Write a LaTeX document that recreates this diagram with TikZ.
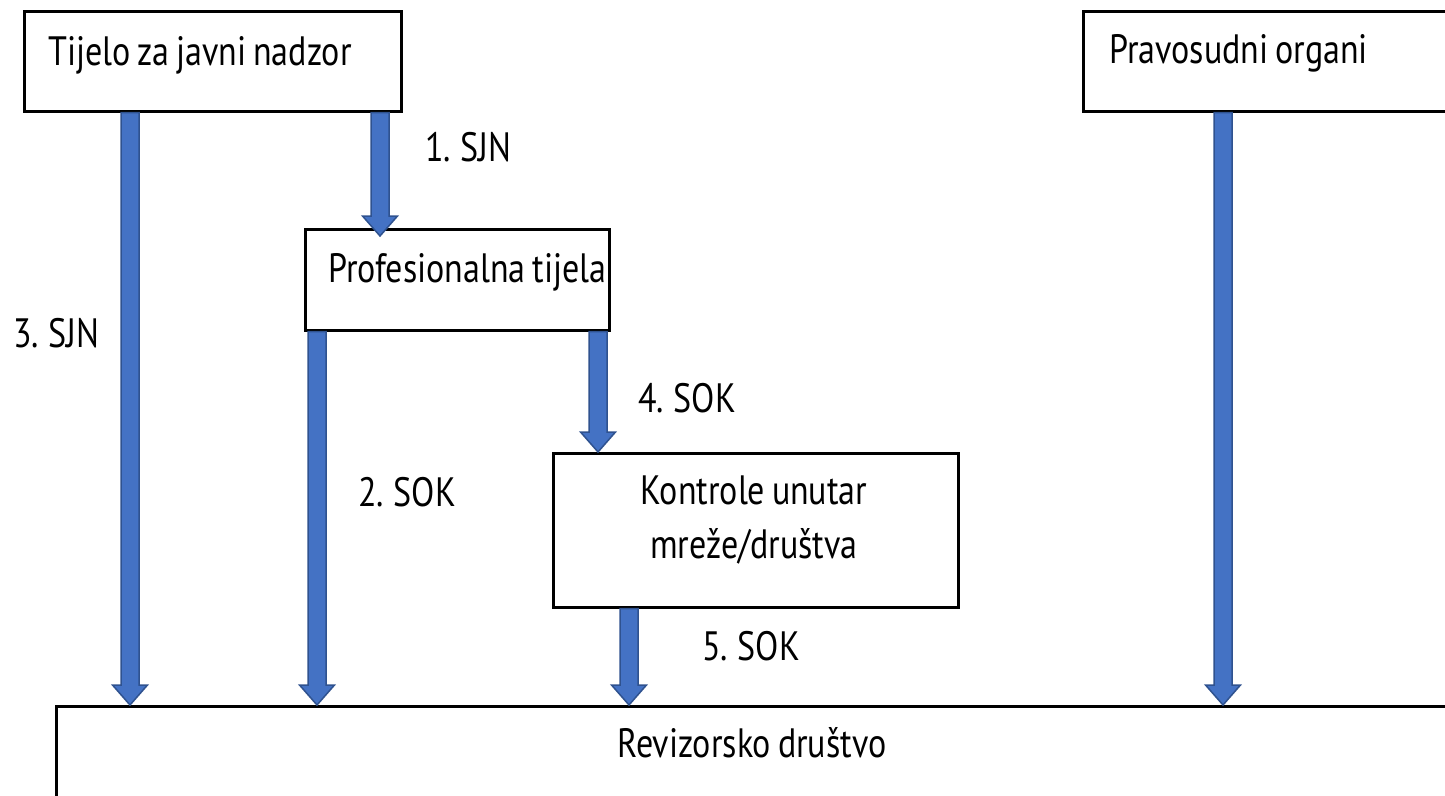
\documentclass[tikz,border=0pt]{standalone}
\usepackage{fontspec}
\setmainfont{PT Sans}[FakeStretch=0.83, WordSpace=0.75]
\usetikzlibrary{calc}
\definecolor{arrowfill}{HTML}{4472C4}
\definecolor{arrowline}{HTML}{2F528F}
\tikzset{
  box/.style={draw, line width=2.5pt, rectangle, anchor=north west, inner sep=0pt},
  txt/.style={anchor=base west, inner sep=0pt, font=\fontsize{41}{54}\selectfont},
  ctxt/.style={txt, anchor=base},
  blockarrow/.style={fill=arrowfill, draw=arrowline, line width=1.5pt, line join=miter,
    to path={let \p1=(\tikztostart), \p2=(\tikztotarget) in
      (\x1-9pt,\y1) -- (\x1+9pt,\y1) -- (\x1+9pt,\y2+20pt) -- (\x1+17.5pt,\y2+20pt)
      -- (\x1,\y2) -- (\x1-17.5pt,\y2+20pt) -- (\x1-9pt,\y2+20pt) -- cycle}}
}
\begin{document}
\begin{tikzpicture}[x=1pt, y=-1pt]
  \useasboundingbox (0,0) rectangle (1445,795);
  \clip (0,0) rectangle (1445,795);
  % boxes
  \node[box, minimum width=377pt, minimum height=100pt] (tijelo) at (23,10) {};
  \node[box, minimum width=400pt, minimum height=100pt] (pravo) at (1082,10) {};
  \node[box, minimum width=304pt, minimum height=101pt] (prof) at (304,228) {};
  \node[box, minimum width=405pt, minimum height=154pt] (kontrole) at (552,452) {};
  \node[box, minimum width=1400pt, minimum height=120pt] (revizor) at (55,705) {};
  % box texts
  \node[txt] (tijelotxt) at (48,65) {Tijelo za javni nadzor};
  \node[txt] (pravotxt) at (1109,63) {Pravosudni organi};
  \node[txt] (proftxt) at (328,282) {Profesionalna tijela};
  \node[ctxt] (kontrole1) at (754,504) {Kontrole unutar};
  \node[ctxt] (kontrole2) at (754,558) {mreže/društva};
  \node[ctxt] (revizortxt) at (752,757) {Revizorsko društvo};
  % arrow starts
  \coordinate (s1) at ([xshift=357pt]tijelo.south west);
  \coordinate (s3) at ([xshift=107pt]tijelo.south west);
  \coordinate (s2) at ([xshift=13pt]prof.south west);
  \coordinate (s4) at ([xshift=294pt]prof.south west);
  \coordinate (s5) at ([xshift=77pt]kontrole.south west);
  \coordinate (s6) at ([xshift=141pt]pravo.south west);
  % arrows
  \draw[blockarrow] (s1) to ($(s1 |- prof.north)+(0,8)$);
  \draw[blockarrow] (s3) to (s3 |- revizor.north);
  \draw[blockarrow] (s2) to (s2 |- revizor.north);
  \draw[blockarrow] (s4) to (s4 |- kontrole.north);
  \draw[blockarrow] (s5) to (s5 |- revizor.north);
  \draw[blockarrow] (s6) to (s6 |- revizor.north);
  % arrow labels
  \node[txt] (l1) at (425,161) {1. SJN};
  \node[txt] (l3) at (13,347) {3. SJN};
  \node[txt] (l4) at (638,412) {4. SOK};
  \node[txt] (l2) at (358,506) {2. SOK};
  \node[txt] (l5) at (702,660) {5. SOK};
\end{tikzpicture}
\end{document}
